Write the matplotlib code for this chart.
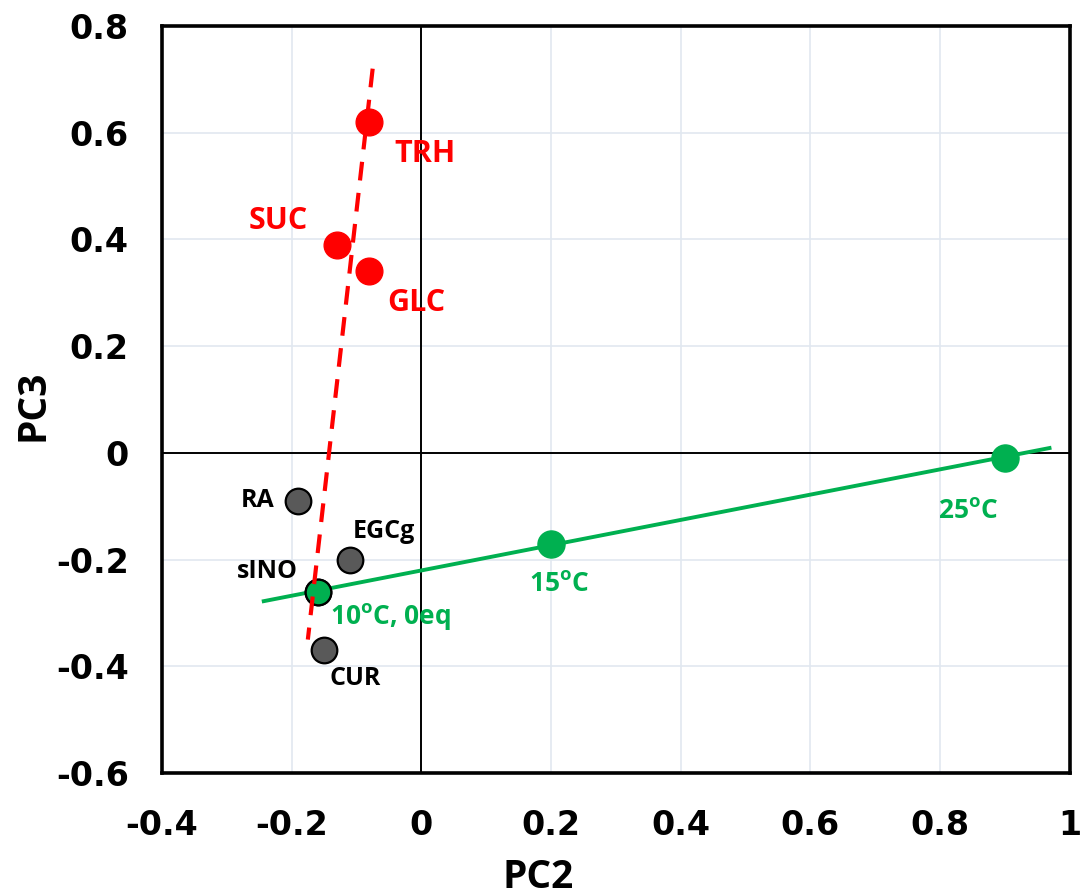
import matplotlib.pyplot as plt

# PCA loadings (PC2, PC3)
sugar_names = ['TRH', 'SUC', 'GLC']
sugar_pc2 = [-0.08, -0.13, -0.08]
sugar_pc3 = [0.62, 0.39, 0.34]

other_names = ['RA', 'EGCg', 'sINO', 'CUR']
other_pc2 = [-0.19, -0.11, -0.16, -0.15]
other_pc3 = [-0.09, -0.20, -0.26, -0.37]

temp_names = ['10$^{\\mathregular{o}}$C, 0eq', '15$^{\\mathregular{o}}$C', '25$^{\\mathregular{o}}$C']
temp_pc2 = [-0.16, 0.20, 0.90]
temp_pc3 = [-0.26, -0.17, -0.01]

# trend line endpoints
sugar_line_x = [-0.075, -0.175]
sugar_line_y = [0.72, -0.35]
temp_line_x = [-0.243, 0.969]
temp_line_y = [-0.278, 0.009]

RED = '#FF0000'
GREEN = '#00B050'
GREY = '#595959'
LABEL_FONT = ['Open Sans', 'DejaVu Sans']

plt.rcParams['mathtext.fontset'] = 'custom'
plt.rcParams['mathtext.rm'] = 'Open Sans:bold'

fig = plt.figure(figsize=(10.87, 8.96), dpi=100)
ax = fig.add_axes([0.149, 0.1373, 0.835, 0.8337])

ax.set_xlim(-0.4, 1.0)
ax.set_ylim(-0.6, 0.8)
ax.set_xticks([-0.4, -0.2, 0, 0.2, 0.4, 0.6, 0.8, 1.0])
ax.set_xticklabels(['-0.4', '-0.2', '0', '0.2', '0.4', '0.6', '0.8', '1'])
ax.set_yticks([-0.6, -0.4, -0.2, 0, 0.2, 0.4, 0.6, 0.8])
ax.set_yticklabels(['-0.6', '-0.4', '-0.2', '0', '0.2', '0.4', '0.6', '0.8'])
ax.tick_params(length=0, labelsize=24, pad=26)
ax.tick_params(axis='y', pad=24)
for lbl in ax.get_xticklabels() + ax.get_yticklabels():
    lbl.set_fontweight('bold')

ax.grid(True, color='#E1E8F0', linewidth=1.2)
ax.set_axisbelow(True)
for sp in ax.spines.values():
    sp.set_linewidth(2.6)
    sp.set_color('black')

ax.axhline(0, color='black', linewidth=1.4, zorder=1)
ax.axvline(0, color='black', linewidth=1.4, zorder=1)

# temperature trend line and points
ax.plot(temp_line_x, temp_line_y, color=GREEN, linewidth=2.8, zorder=2)
ax.scatter(temp_pc2[1:], temp_pc3[1:], s=380, color=GREEN, zorder=3)

# other compounds
ax.scatter(other_pc2, other_pc3, s=340, color=GREY, edgecolor='black',
           linewidth=1.6, zorder=3)
ax.scatter(temp_pc2[:1], temp_pc3[:1], s=340, color=GREEN, edgecolor='black',
           linewidth=1.6, zorder=4)

# sugar trend line and points
ax.plot(sugar_line_x, sugar_line_y, color=RED, linewidth=3,
        linestyle=(0, (4.5, 3)), zorder=5)
ax.scatter(sugar_pc2, sugar_pc3, s=370, color=RED, zorder=6)

# labels
sugar_offsets = [(25, -32), (-88, 24), (18, -32)]
for name, x, y, off in zip(sugar_names, sugar_pc2, sugar_pc3, sugar_offsets):
    ax.annotate(name, (x, y), xytext=off, textcoords='offset pixels',
                color=RED, fontsize=22, fontweight='bold', family=LABEL_FONT,
                ha='left', va='center')

other_offsets = [(-57, 0), (3, 28), (-81, 20), (5, -28)]
for name, x, y, off in zip(other_names, other_pc2, other_pc3, other_offsets):
    ax.annotate(name, (x, y), xytext=off, textcoords='offset pixels',
                color='black', fontsize=18, fontweight='bold', family=LABEL_FONT,
                ha='left', va='center')

temp_offsets = [(12, -25), (-22, -40), (-67, -52)]
for name, x, y, off in zip(temp_names, temp_pc2, temp_pc3, temp_offsets):
    ax.annotate(name, (x, y), xytext=off, textcoords='offset pixels',
                color=GREEN, fontsize=19, fontweight='bold', family=LABEL_FONT,
                ha='left', va='center')

fig.text(538 / 1087, 1 - 877 / 896, 'PC2', fontsize=28, fontweight='bold',
         family=LABEL_FONT, ha='center', va='center')
fig.text(33 / 1087, 1 - 405 / 896, 'PC3', fontsize=28, fontweight='bold',
         family=LABEL_FONT, ha='center', va='center', rotation=90)

fig.savefig('out.png', dpi=100)
